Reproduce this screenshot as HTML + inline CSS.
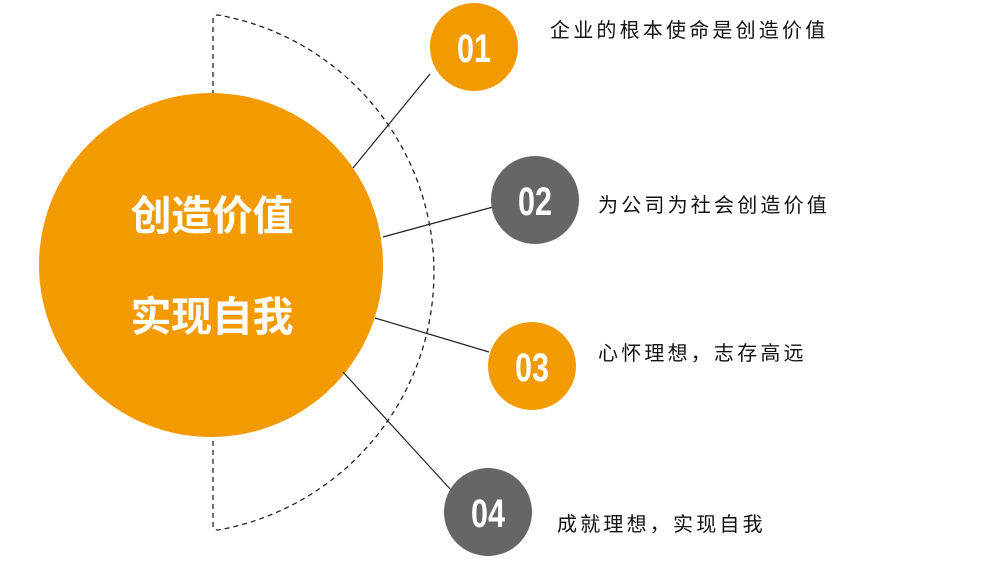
<!DOCTYPE html>
<html><head><meta charset="utf-8"><style>
body{margin:0;width:985px;height:571px;background:#fff;overflow:hidden;position:relative;font-family:"Liberation Sans","Noto Sans CJK SC",sans-serif}
.t{position:absolute;font-size:20px;letter-spacing:3.2px;color:#111;white-space:nowrap}
</style></head><body>
<svg width="985" height="571" style="position:absolute;left:0;top:0">
<path d="M213 95 L213 20 Q213 15 218 15 A261.5 261.5 0 0 1 218 530 Q213 530 213 525 L213 436" fill="none" stroke="#222" stroke-width="1.3" stroke-dasharray="5,4"/>
<circle cx="211" cy="265" r="172" fill="#F39A00"/>
<g stroke="#222" stroke-width="1.2">
<line x1="353" y1="168" x2="430" y2="74"/>
<line x1="383" y1="237" x2="493" y2="207"/>
<line x1="375" y1="318" x2="489" y2="352"/>
<line x1="343" y1="372" x2="451" y2="490"/>
</g>
<circle cx="474" cy="47" r="44" fill="#F39A00"/>
<circle cx="535" cy="200" r="44" fill="#666"/>
<circle cx="532" cy="366" r="44" fill="#F39A00"/>
<circle cx="488" cy="512" r="44" fill="#666"/>
<g fill="#fff" font-family="Liberation Sans" font-weight="bold" font-size="40" text-anchor="middle">
<text x="474" y="62" textLength="34" lengthAdjust="spacingAndGlyphs">01</text>
<text x="535" y="215" textLength="34" lengthAdjust="spacingAndGlyphs">02</text>
<text x="532" y="381" textLength="34" lengthAdjust="spacingAndGlyphs">03</text>
<text x="488" y="527" textLength="34" lengthAdjust="spacingAndGlyphs">04</text>
</g>
<g fill="#fff" font-family="Liberation Sans,Noto Sans CJK SC,sans-serif" font-weight="bold" font-size="41" text-anchor="middle">
<text x="212" y="230" textLength="163" lengthAdjust="spacing">创造价值</text>
<text x="212" y="331" textLength="163" lengthAdjust="spacing">实现自我</text>
</g>
</svg>
<div class="t" style="left:550px;top:14px">企业的根本使命是创造价值</div>
<div class="t" style="left:598px;top:189px">为公司为社会创造价值</div>
<div class="t" style="left:598px;top:337px">心怀理想，志存高远</div>
<div class="t" style="left:557px;top:508px">成就理想，实现自我</div>
</body></html>
